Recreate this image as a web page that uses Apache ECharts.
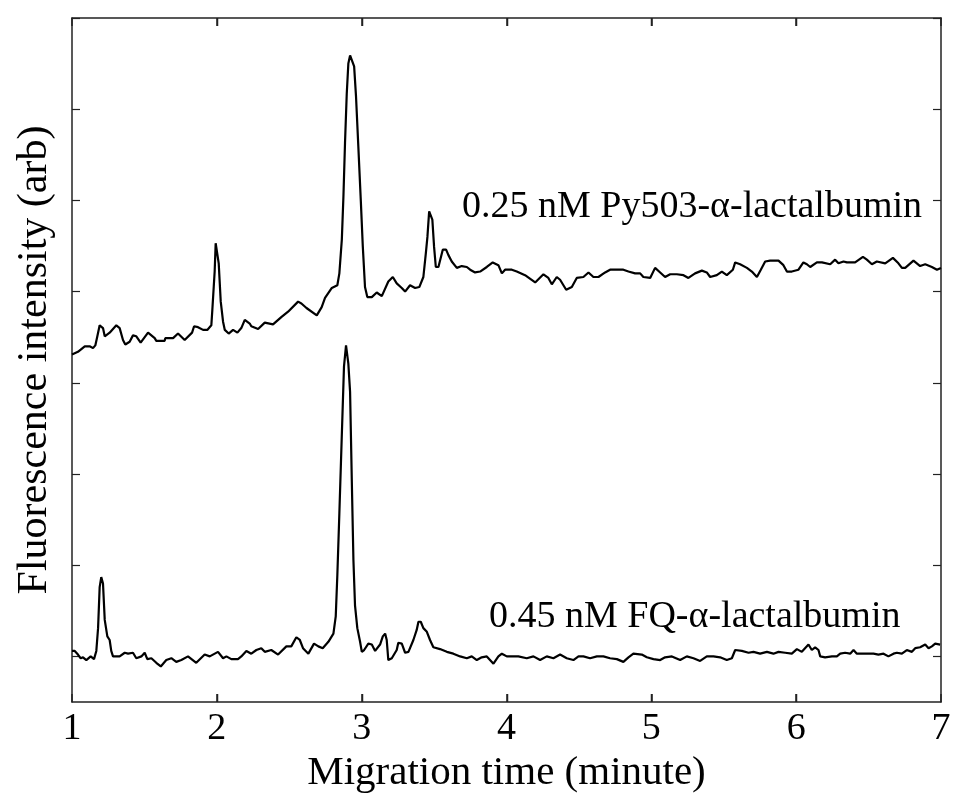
<!DOCTYPE html>
<html>
<head>
<meta charset="utf-8">
<script src="https://cdn.jsdelivr.net/npm/echarts@6/dist/echarts.min.js"></script>
<style>
  html, body { margin: 0; padding: 0; background: #fff; }
  #chart { width: 960px; height: 807px; }
</style>
</head>
<body>
<div id="chart"></div>
<script>
// Migration time (minute) and fluorescence (arb, offset traces)
const timePy503 = [1.0,1.041,1.088,1.122,1.145,1.161,1.175,1.191,1.202,1.214,1.226,1.260,1.306,1.329,1.352,1.368,1.398,1.421,1.444,1.474,1.525,1.571,1.582,1.640,1.644,1.698,1.732,1.778,1.829,1.843,1.870,1.905,1.934,1.962,1.969,1.985,1.992,2.003,2.013,2.027,2.043,2.055,2.082,2.112,2.142,2.169,2.193,2.227,2.238,2.285,2.331,2.388,2.445,2.492,2.561,2.584,2.619,2.690,2.724,2.747,2.794,2.832,2.846,2.863,2.874,2.885,2.897,2.908,2.920,2.932,2.948,2.961,2.977,2.994,3.008,3.023,3.039,3.070,3.104,3.139,3.184,3.215,3.242,3.277,3.300,3.334,3.369,3.398,3.426,3.443,3.454,3.466,3.477,3.488,3.500,3.512,3.530,3.560,3.583,3.599,3.622,3.657,3.691,3.726,3.749,3.783,3.818,3.864,3.905,3.944,3.968,3.990,4.037,4.071,4.128,4.198,4.255,4.289,4.313,4.347,4.370,4.412,4.451,4.485,4.531,4.566,4.600,4.635,4.681,4.715,4.762,4.807,4.842,4.888,4.923,4.945,4.992,5.026,5.061,5.095,5.130,5.176,5.222,5.256,5.302,5.349,5.383,5.406,5.452,5.487,5.521,5.563,5.579,5.613,5.660,5.694,5.729,5.756,5.786,5.820,5.878,5.912,5.936,5.970,6.016,6.050,6.074,6.097,6.143,6.178,6.235,6.269,6.292,6.327,6.350,6.407,6.461,6.488,6.523,6.557,6.615,6.668,6.706,6.730,6.753,6.810,6.856,6.891,6.937,6.972,7.0];
const signalPy503 = [3.31,3.34,3.40,3.40,3.38,3.41,3.51,3.63,3.64,3.60,3.51,3.55,3.63,3.60,3.47,3.42,3.45,3.52,3.51,3.44,3.55,3.49,3.46,3.46,3.49,3.49,3.54,3.47,3.55,3.62,3.61,3.58,3.58,3.63,3.80,4.22,4.53,4.53,4.31,3.89,3.67,3.58,3.54,3.58,3.55,3.60,3.69,3.65,3.62,3.59,3.66,3.64,3.72,3.78,3.89,3.87,3.82,3.74,3.83,3.93,4.04,4.07,4.20,4.57,5.04,5.63,6.17,6.50,6.59,6.58,6.47,6.14,5.59,5.00,4.49,4.05,3.94,3.94,3.99,3.95,4.11,4.16,4.09,4.04,4.00,4.07,4.04,4.05,4.16,4.42,4.60,4.88,4.86,4.79,4.49,4.27,4.27,4.46,4.46,4.40,4.33,4.26,4.28,4.27,4.24,4.21,4.22,4.27,4.32,4.29,4.20,4.24,4.24,4.22,4.18,4.10,4.19,4.15,4.08,4.16,4.13,4.02,4.05,4.15,4.16,4.21,4.16,4.16,4.21,4.24,4.24,4.24,4.22,4.20,4.20,4.16,4.15,4.26,4.21,4.16,4.19,4.19,4.18,4.15,4.20,4.23,4.21,4.16,4.18,4.22,4.18,4.24,4.32,4.30,4.26,4.22,4.16,4.24,4.33,4.34,4.34,4.29,4.22,4.22,4.24,4.32,4.30,4.27,4.32,4.32,4.30,4.35,4.31,4.33,4.32,4.32,4.38,4.35,4.30,4.33,4.31,4.37,4.31,4.26,4.26,4.34,4.28,4.30,4.27,4.24,4.26];

const timeFQ = [1.0,1.019,1.041,1.060,1.076,1.099,1.129,1.152,1.168,1.180,1.191,1.202,1.214,1.226,1.244,1.260,1.271,1.283,1.313,1.329,1.364,1.387,1.421,1.444,1.479,1.502,1.520,1.548,1.582,1.613,1.651,1.686,1.720,1.755,1.801,1.858,1.916,1.951,2.008,2.043,2.066,2.100,2.146,2.169,2.204,2.238,2.273,2.307,2.331,2.376,2.423,2.480,2.514,2.549,2.573,2.595,2.632,2.671,2.701,2.731,2.770,2.805,2.821,2.832,2.846,2.863,2.878,2.892,2.904,2.908,2.920,2.932,2.943,2.954,2.970,2.989,3.001,3.017,3.046,3.070,3.093,3.127,3.146,3.162,3.173,3.184,3.208,3.242,3.253,3.277,3.300,3.323,3.357,3.380,3.392,3.408,3.426,3.450,3.472,3.495,3.541,3.588,3.633,3.680,3.726,3.760,3.795,3.829,3.864,3.910,3.944,3.968,4.002,4.037,4.082,4.140,4.186,4.232,4.278,4.324,4.370,4.416,4.462,4.497,4.531,4.577,4.624,4.669,4.715,4.762,4.807,4.842,4.876,4.934,4.969,5.015,5.061,5.095,5.142,5.199,5.245,5.291,5.337,5.383,5.429,5.475,5.521,5.556,5.579,5.625,5.671,5.705,5.751,5.798,5.843,5.878,5.924,5.970,6.005,6.039,6.085,6.108,6.131,6.154,6.166,6.200,6.247,6.281,6.304,6.338,6.373,6.396,6.419,6.454,6.488,6.534,6.568,6.603,6.637,6.672,6.695,6.730,6.764,6.799,6.822,6.856,6.891,6.914,6.937,6.960,6.994];
const signalFQ = [0.06,0.06,0.02,-0.02,-0.01,-0.04,0.00,-0.03,0.06,0.31,0.76,0.87,0.80,0.40,0.22,0.18,0.06,0.00,0.00,0.00,0.04,0.03,0.04,-0.02,0.00,0.04,-0.03,-0.02,-0.07,-0.11,-0.04,-0.02,-0.06,-0.04,0.00,-0.07,0.02,0.00,0.05,-0.02,0.00,-0.03,-0.03,0.00,0.06,0.03,0.07,0.09,0.05,0.07,0.02,0.11,0.11,0.21,0.18,0.09,0.03,0.14,0.11,0.09,0.16,0.25,0.44,0.89,1.57,2.43,3.18,3.41,3.41,3.21,2.90,1.92,1.06,0.56,0.31,0.16,0.05,0.07,0.14,0.13,0.06,0.13,0.22,0.25,0.18,-0.04,-0.02,0.07,0.15,0.14,0.04,0.05,0.18,0.29,0.38,0.38,0.31,0.27,0.18,0.10,0.08,0.05,0.03,0.00,-0.02,0.00,-0.04,-0.01,0.00,-0.08,0.00,0.03,0.00,0.00,0.00,-0.02,0.00,-0.04,0.00,-0.02,0.02,-0.02,-0.04,0.00,0.00,-0.02,0.00,0.00,-0.02,-0.03,-0.06,-0.01,0.03,0.02,-0.01,-0.03,-0.04,-0.01,0.00,-0.04,0.00,-0.02,-0.05,0.00,0.00,-0.01,-0.04,-0.02,0.07,0.06,0.04,0.05,0.03,0.05,0.03,0.05,0.04,0.03,0.08,0.05,0.13,0.07,0.10,0.07,0.00,-0.01,0.00,0.00,0.03,0.04,0.03,0.07,0.03,0.03,0.03,0.03,0.02,0.03,0.00,0.03,0.04,0.03,0.07,0.05,0.09,0.10,0.13,0.09,0.11,0.14,0.13];

const xTicks = [1, 2, 3, 4, 5, 6, 7];
const yTicks = [0, 1, 2, 3, 4, 5, 6, 7];
const xMin = 1, xMax = 7, yMin = -0.5, yMax = 7;
const labelPy503 = '0.25 nM Py503-\u03b1-lactalbumin';
const labelFQ = '0.45 nM FQ-\u03b1-lactalbumin';

const FONT = '"Liberation Serif", "DejaVu Serif", serif';
const chart = echarts.init(document.getElementById('chart'), null, { renderer: 'canvas' });

function axisLine() { return { show: true, onZero: false, lineStyle: { color: '#222', width: 1.5 } }; }
function ticks(values, w, len) {
  return { show: true, inside: true, length: len, customValues: values,
           lineStyle: { color: '#222', width: w } };
}

chart.setOption({
  animation: false,
  backgroundColor: '#fff',
  grid: { left: 72, right: 19, top: 18, bottom: 105, containLabel: false },
  xAxis: [
    {
      type: 'value', min: xMin, max: xMax, position: 'bottom',
      axisLine: axisLine(), axisTick: ticks(xTicks, 1.5, 8), splitLine: { show: false },
      axisLabel: { show: true, color: '#000', fontFamily: FONT, fontSize: 38, margin: 8,
                   customValues: xTicks },
      name: 'Migration time (minute)', nameLocation: 'middle', nameGap: 46,
      nameTextStyle: { color: '#000', fontFamily: FONT, fontSize: 41 }
    },
    {
      type: 'value', min: xMin, max: xMax, position: 'top',
      axisLine: axisLine(), axisTick: ticks(xTicks, 1.5, 8), splitLine: { show: false },
      axisLabel: { show: false }
    }
  ],
  yAxis: [
    {
      type: 'value', min: yMin, max: yMax, position: 'left',
      axisLine: axisLine(), axisTick: ticks(yTicks, 1.2, 8),
      splitLine: { show: false }, axisLabel: { show: false },
      name: 'Fluorescence intensity (arb)', nameLocation: 'middle', nameGap: 16,
      nameTextStyle: { color: '#000', fontFamily: FONT, fontSize: 42 }
    },
    {
      type: 'value', min: yMin, max: yMax, position: 'right',
      axisLine: axisLine(), axisTick: ticks(yTicks, 1.2, 8),
      splitLine: { show: false }, axisLabel: { show: false }
    }
  ],
  series: [
    {
      name: labelPy503, type: 'line', xAxisIndex: 0, yAxisIndex: 0,
      data: timePy503.map((t, i) => [t, signalPy503[i]]),
      showSymbol: false, symbol: 'none',
      lineStyle: { color: '#000', width: 2.2 }
    },
    {
      name: labelFQ, type: 'line', xAxisIndex: 0, yAxisIndex: 0,
      data: timeFQ.map((t, i) => [t, signalFQ[i]]),
      showSymbol: false, symbol: 'none',
      lineStyle: { color: '#000', width: 2.2 }
    }
  ],
  graphic: [
    { type: 'text', left: 462, top: 188,
      style: { text: labelPy503, fill: '#000', font: '38px ' + FONT } },
    { type: 'text', left: 489, top: 598,
      style: { text: labelFQ, fill: '#000', font: '38px ' + FONT } }
  ]
});

// Tick marks on the top and bottom frame edges, placed through the chart's own x/y scales
const tickGraphics = [];
xTicks.filter(v => v > xMin && v < xMax).forEach(v => {
  const pBottom = chart.convertToPixel({ gridIndex: 0 }, [v, yMin]);
  const pTop = chart.convertToPixel({ gridIndex: 0 }, [v, yMax]);
  const px = Math.round(pBottom[0]) + 0.5;
  tickGraphics.push({
    type: 'line', silent: true, z: 100,
    shape: { x1: px, y1: pBottom[1], x2: px, y2: pBottom[1] - 8 },
    style: { stroke: '#222', lineWidth: 1.5 }
  });
  tickGraphics.push({
    type: 'line', silent: true, z: 100,
    shape: { x1: px, y1: pTop[1], x2: px, y2: pTop[1] + 8 },
    style: { stroke: '#222', lineWidth: 1.5 }
  });
});
chart.setOption({ graphic: tickGraphics.concat([]) }, { replaceMerge: [] });
chart.setOption({
  graphic: [
    { type: 'text', left: 462, top: 188,
      style: { text: labelPy503, fill: '#000', font: '38px ' + FONT } },
    { type: 'text', left: 489, top: 598,
      style: { text: labelFQ, fill: '#000', font: '38px ' + FONT } }
  ].concat(tickGraphics)
}, { replaceMerge: ['graphic'] });
</script>
</body>
</html>
